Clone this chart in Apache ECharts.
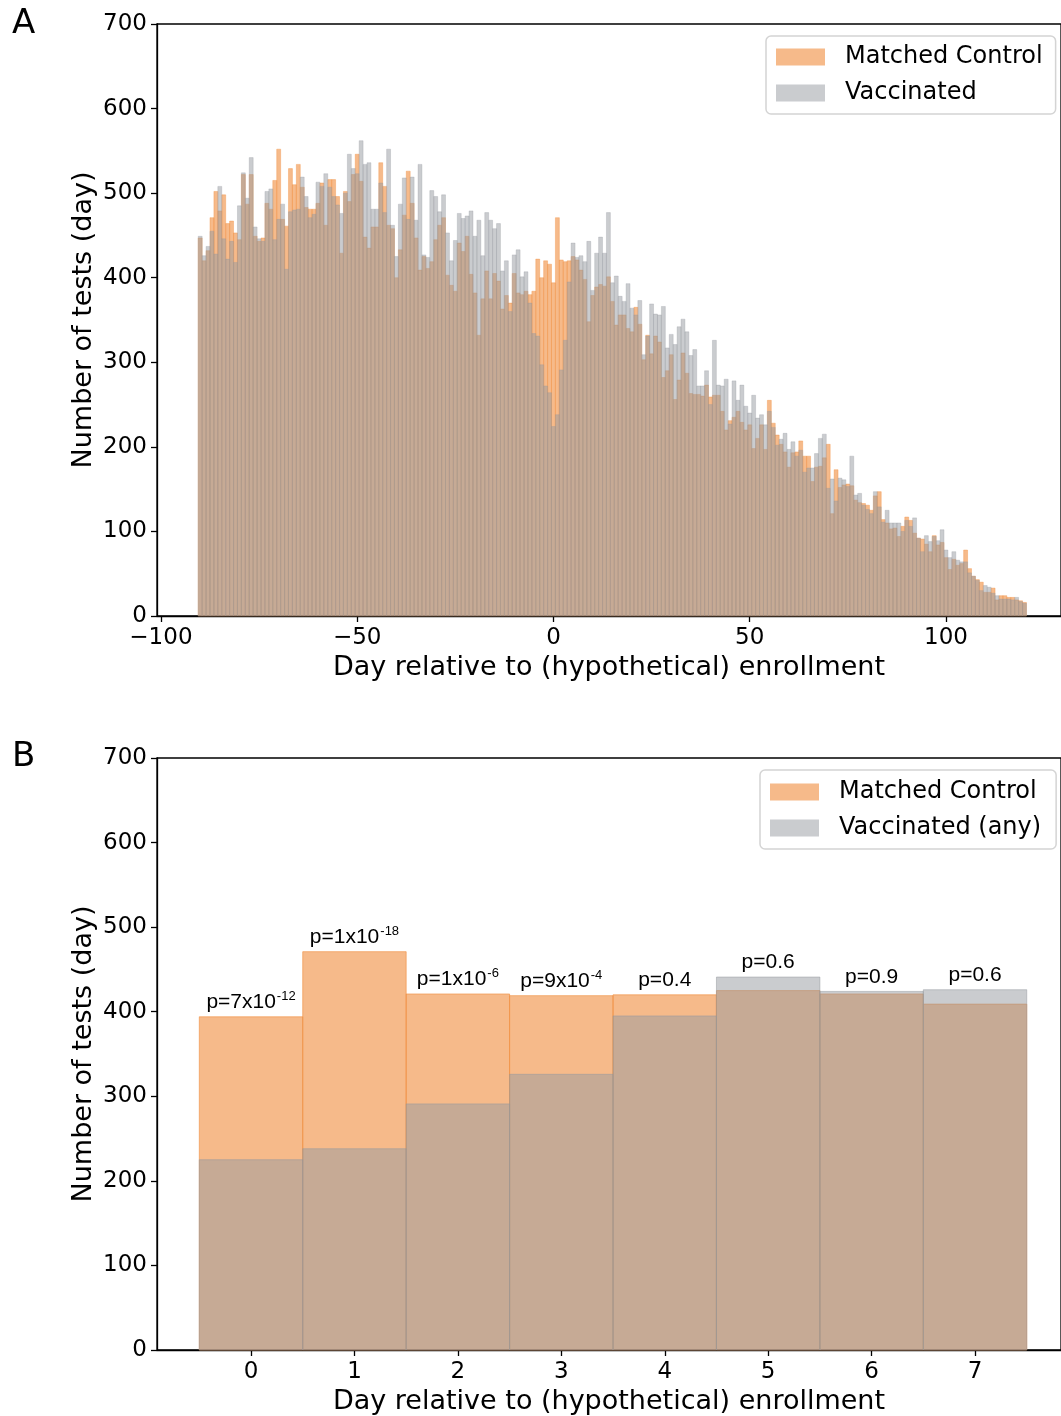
<!DOCTYPE html>
<html><head><meta charset="utf-8">
<script src="https://cdn.jsdelivr.net/npm/echarts@6/dist/echarts.min.js"></script>
<style>html,body{margin:0;padding:0;background:#fff}#c{width:1061px;height:1416px}</style>
</head><body><div id="c"></div>
<script>
// ---- Panel A data: daily histogram, days -90 .. 120 ----
const firstDayA = -90;
const controlA = [
447,420,432,471,502,479,498,464,467,453,445,522,487,522,449,443,447,488,481,515,552,469,461,529,510,534,507,483,481,481,488,512,462,516,
516,496,429,502,490,522,546,514,448,435,460,460,536,508,462,458,400,433,474,526,488,447,409,425,411,419,445,462,471,403,391,384,441,431,449,404,382,
332,375,408,375,405,396,363,379,370,405,382,380,384,380,384,422,400,420,416,394,471,421,419,420,425,421,409,398,348,379,389,392,390,401,372,344,
356,356,340,336,365,345,303,332,310,331,324,282,290,309,256,279,311,287,263,262,262,260,273,259,261,261,242,220,231,235,242,229,220,226,
198,210,226,197,255,228,214,203,194,176,193,194,207,189,189,159,176,177,187,203,121,173,152,155,156,154,137,134,133,131,125,142,147,114,110,103,104,
94,106,117,113,98,92,91,85,76,95,84,87,69,55,67,60,62,78,56,47,43,40,28,28,33,19,24,24,22,22,19,18,16
];
const vaccinatedA = [
449,426,437,455,428,508,446,422,443,418,485,524,494,542,460,446,443,502,505,445,469,487,410,478,480,481,519,496,471,475,513,508,523,507,
496,486,476,500,546,529,523,562,534,536,481,481,512,477,552,462,425,487,518,469,519,468,534,427,424,503,496,478,498,453,420,444,476,470,473,479,449,
468,426,477,468,458,464,408,420,360,427,433,401,407,370,334,331,297,272,264,224,238,291,326,395,441,424,426,419,443,385,429,448,429,477,394,402,
378,372,393,364,356,373,309,331,369,357,356,366,317,333,321,342,351,336,308,315,272,272,290,250,326,273,272,280,227,278,255,273,248,240,
261,234,238,226,242,223,202,209,216,197,206,189,196,170,175,175,192,210,215,151,162,136,163,161,153,189,143,145,131,126,121,147,129,111,125,110,110,
110,100,113,106,116,92,76,95,88,94,89,102,78,69,76,66,64,64,51,47,42,30,36,34,27,24,20,20,20,19,22,17,15
];
const xTicksA = [-100, -50, 0, 50, 100];

// ---- Panel B data: days 0 .. 7 ----
const daysB = [0, 1, 2, 3, 4, 5, 6, 7];
const controlB = [394, 471, 421, 419, 420, 425, 421, 409];
const vaccinatedB = [225, 238, 291, 326, 395, 441, 424, 426];
const pMain = ['p=7x10', 'p=1x10', 'p=1x10', 'p=9x10', 'p=0.4', 'p=0.6', 'p=0.9', 'p=0.6'];
const pExp = ['-12', '-18', '-6', '-4', '', '', '', ''];

const ORANGE = 'rgba(240,140,60,0.6)';
const GREY = 'rgba(150,153,160,0.5)';
const FONT = 'DejaVu Sans';

const chart = echarts.init(document.getElementById('c'), null, {renderer: 'canvas'});

function histSeries(name, pairs, color, idx, lw) {
  return {
    type: 'custom', name: name, xAxisIndex: idx, yAxisIndex: idx, data: pairs,
    itemStyle: {color: color}, encode: {x: 0, y: 1}, silent: true,
    renderItem: function (params, api) {
      const x = api.value(0), v = api.value(1);
      const a = api.coord([x - 0.5, v]);
      const b = api.coord([x + 0.5, 0]);
      return {type: 'rect', shape: {x: a[0], y: a[1], width: b[0] - a[0], height: b[1] - a[1]},
        style: {fill: color, stroke: color, lineWidth: lw}};
    }
  };
}

const pairsCA = controlA.map((v, i) => [firstDayA + i, v]);
const pairsVA = vaccinatedA.map((v, i) => [firstDayA + i, v]);
const pairsCB = controlB.map((v, i) => [daysB[i], v]);
const pairsVB = vaccinatedB.map((v, i) => [daysB[i], v]);

const minus = v => String(v).replace('-', '\u2212');

function xAxis(idx, min, max, ticks) {
  return {
    type: 'value', gridIndex: idx, min: min, max: max,
    name: 'Day relative to (hypothetical) enrollment', nameLocation: 'middle', nameGap: 38,
    nameTextStyle: {fontFamily: FONT, fontSize: 27, color: '#000'},
    splitLine: {show: false},
    axisLine: {show: true, onZero: false, lineStyle: {color: '#000', width: 1.3}},
    axisTick: {show: true, customValues: ticks, length: 6, lineStyle: {color: '#000', width: 1.3}},
    axisLabel: {customValues: ticks, formatter: minus, fontFamily: FONT, fontSize: 23, color: '#000', margin: 11}
  };
}
function yAxis(idx) {
  return {
    type: 'value', gridIndex: idx, min: 0, max: 700, interval: 100,
    name: 'Number of tests (day)', nameLocation: 'middle', nameGap: 60, nameMoveOverlap: false,
    nameTextStyle: {fontFamily: FONT, fontSize: 27, color: '#000'},
    splitLine: {show: false},
    axisLine: {show: true, onZero: false, lineStyle: {color: '#000', width: 1.3}},
    axisTick: {show: true, length: 6, lineStyle: {color: '#000', width: 1.3}},
    axisLabel: {fontFamily: FONT, fontSize: 23, color: '#000', margin: 10}
  };
}
function legend(left, top, names, padTop, padRight) {
  return {
    left: left, top: top, orient: 'vertical', icon: 'rect', itemWidth: 49, itemHeight: 17, itemGap: 10,
    data: names, selectedMode: false,
    padding: [padTop, padRight, 8, 10],
    backgroundColor: '#fff', borderColor: '#d4d4d4', borderWidth: 1.5, borderRadius: 5,
    textStyle: {fontFamily: FONT, fontSize: 24, color: '#000', lineHeight: 26, padding: [0, 0, 0, 15]}
  };
}

const option = {
  animation: false,
  backgroundColor: '#fff',
  grid: [
    {left: 157, right: 0, top: 24, bottom: 800, show: true, borderColor: '#000', borderWidth: 1.3},
    {left: 157, right: 0, top: 758, bottom: 66, show: true, borderColor: '#000', borderWidth: 1.3}
  ],
  xAxis: [xAxis(0, -101.0, 129.3, xTicksA), xAxis(1, -0.909, 7.831, daysB)],
  yAxis: [yAxis(0), yAxis(1)],
  legend: [legend(766, 36, ['Matched Control', 'Vaccinated'], 8, 13), legend(760, 770, ['Matched Control', 'Vaccinated (any)'], 9, 15)],
  graphic: [
    {type: 'text', left: 12, top: 7, style: {text: 'A', fontFamily: FONT, fontSize: 34, fill: '#000'}},
    {type: 'text', left: 12, top: 740, style: {text: 'B', fontFamily: FONT, fontSize: 34, fill: '#000'}}
  ],
  series: [
    histSeries('Matched Control', pairsCA, ORANGE, 0, 0.6),
    histSeries('Vaccinated', pairsVA, GREY, 0, 0.6),
    histSeries('Matched Control', pairsCB, ORANGE, 1, 1),
    histSeries('Vaccinated (any)', pairsVB, GREY, 1, 1),
    {
      type: 'custom', name: 'pvalues', xAxisIndex: 1, yAxisIndex: 1, silent: true,
      data: daysB.map((d, i) => [d, Math.max(controlB[i], vaccinatedB[i]), i]),
      encode: {x: 0, y: 1},
      renderItem: function (params, api) {
        const i = api.value(2);
        const p = api.coord([api.value(0), api.value(1)]);
        const txt = pExp[i] ? '{m|' + pMain[i] + '}{s|' + pExp[i] + '}' : '{m|' + pMain[i] + '}';
        return {type: 'text', x: p[0], y: p[1] - 4,
          style: {text: txt, align: 'center', verticalAlign: 'bottom',
            rich: {
              m: {fontFamily: 'Liberation Sans', fontSize: 21, fill: '#000', lineHeight: 23, verticalAlign: 'bottom'},
              s: {fontFamily: 'Liberation Sans', fontSize: 13, fill: '#000', lineHeight: 23, verticalAlign: 'top', padding: [0, 0, 0, 1]}
            }}};
      }
    }
  ]
};
chart.setOption(option);
</script></body></html>
